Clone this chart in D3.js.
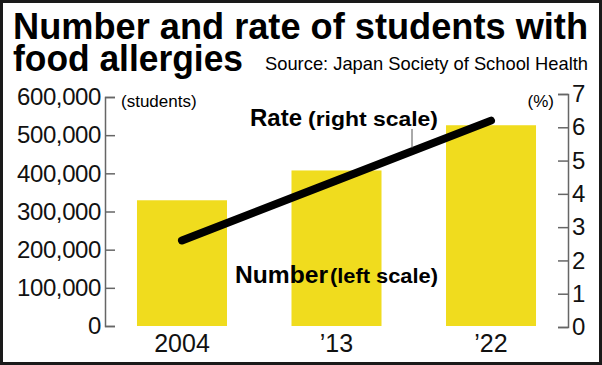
<!DOCTYPE html>
<html>
<head>
<meta charset="utf-8">
<script src="https://cdn.jsdelivr.net/npm/d3@7"></script>
<style>
  body { margin: 0; background: #fff; }
  svg { display: block; font-family: "Liberation Sans", Arial, Helvetica, sans-serif; }
  .axis path, .axis line { stroke: #666; stroke-width: 1.5; }
  .axis text { font-size: 24px; fill: #111; }
</style>
</head>
<body>
<div id="chart"></div>
<script>
const years = ["2004", "\u201913", "\u201922"];
const students = [329423, 407546, 526000];
const rate = [2.6, 4.4, 6.2];
const leftTicks = [0, 100000, 200000, 300000, 400000, 500000, 600000];
const rightTicks = [0, 1, 2, 3, 4, 5, 6, 7];

const width = 602, height = 365;

const svg = d3.select("#chart").append("svg")
    .attr("width", width)
    .attr("height", height);

// frame
svg.append("rect")
    .attr("x", 1.5).attr("y", 1.5)
    .attr("width", width - 3).attr("height", height - 3)
    .attr("fill", "#fff")
    .attr("stroke", "#1a1a1a")
    .attr("stroke-width", 3);

// title
svg.append("text")
    .attr("x", 13).attr("y", 39)
    .attr("font-size", 36).attr("font-weight", "bold")
    .attr("textLength", 575).attr("lengthAdjust", "spacingAndGlyphs")
    .text("Number and rate of students with");
svg.append("text")
    .attr("x", 13).attr("y", 71)
    .attr("font-size", 36).attr("font-weight", "bold")
    .attr("textLength", 230).attr("lengthAdjust", "spacingAndGlyphs")
    .text("food allergies");
svg.append("text")
    .attr("x", 265).attr("y", 70)
    .attr("font-size", 19)
    .attr("textLength", 323).attr("lengthAdjust", "spacingAndGlyphs")
    .text("Source: Japan Society of School Health");

const x = d3.scaleBand()
    .domain(years)
    .range([105, 568])
    .paddingInner(0.4175)
    .paddingOuter(0.207);

const yL = d3.scaleLinear().domain([0, 600000]).range([326, 97]);
const yR = d3.scaleLinear().domain([0, 7]).range([327, 94]);

// bars
svg.append("g")
    .selectAll("rect")
    .data(students)
    .join("rect")
    .attr("x", (d, i) => x(years[i]))
    .attr("y", d => yL(d))
    .attr("width", x.bandwidth())
    .attr("height", d => yL(0) - yL(d))
    .attr("fill", "#f0dc1e");

// left axis
const gL = svg.append("g")
    .attr("class", "axis")
    .attr("transform", "translate(105,0)")
    .call(d3.axisLeft(yL)
        .tickValues(leftTicks)
        .tickFormat(d3.format(","))
        .tickSizeInner(-10)
        .tickSizeOuter(-10)
        .tickPadding(4));
gL.selectAll("text").attr("letter-spacing", -0.4);

// right axis
svg.append("g")
    .attr("class", "axis")
    .attr("transform", "translate(568,0)")
    .call(d3.axisRight(yR)
        .tickValues(rightTicks)
        .tickFormat(d3.format("d"))
        .tickSizeInner(-10)
        .tickSizeOuter(-10)
        .tickPadding(4));

// unit labels
svg.append("text")
    .attr("x", 121).attr("y", 107)
    .attr("font-size", 17)
    .text("(students)");
svg.append("text")
    .attr("x", 554).attr("y", 107)
    .attr("text-anchor", "end")
    .attr("font-size", 17)
    .text("(%)");

// x labels
svg.append("g")
    .selectAll("text")
    .data(years)
    .join("text")
    .attr("x", d => x(d) + x.bandwidth() / 2)
    .attr("y", 352)
    .attr("text-anchor", "middle")
    .attr("font-size", 25)
    .attr("fill", "#111")
    .text(d => d);

// rate line
const line = d3.line()
    .x((d, i) => x(years[i]) + x.bandwidth() / 2)
    .y(d => yR(d));

svg.append("path")
    .datum(rate)
    .attr("d", line)
    .attr("fill", "none")
    .attr("stroke", "#000")
    .attr("stroke-width", 8)
    .attr("stroke-linecap", "round")
    .attr("stroke-linejoin", "round");

// series labels
svg.append("text")
    .attr("x", 250).attr("y", 126)
    .attr("font-weight", "bold").attr("font-size", 23)
    .attr("textLength", 52).attr("lengthAdjust", "spacingAndGlyphs")
    .text("Rate");
svg.append("text")
    .attr("x", 308).attr("y", 126)
    .attr("font-weight", "bold").attr("font-size", 20)
    .attr("textLength", 130).attr("lengthAdjust", "spacingAndGlyphs")
    .text("(right scale)");

svg.append("line")
    .attr("x1", 412).attr("y1", 129)
    .attr("x2", 412).attr("y2", 148)
    .attr("stroke", "#555")
    .attr("stroke-width", 1);

svg.append("text")
    .attr("x", 235).attr("y", 283)
    .attr("font-weight", "bold").attr("font-size", 23)
    .attr("textLength", 93).attr("lengthAdjust", "spacingAndGlyphs")
    .text("Number");
svg.append("text")
    .attr("x", 330).attr("y", 283)
    .attr("font-weight", "bold").attr("font-size", 20)
    .attr("textLength", 108).attr("lengthAdjust", "spacingAndGlyphs")
    .text("(left scale)");
</script>
</body>
</html>
